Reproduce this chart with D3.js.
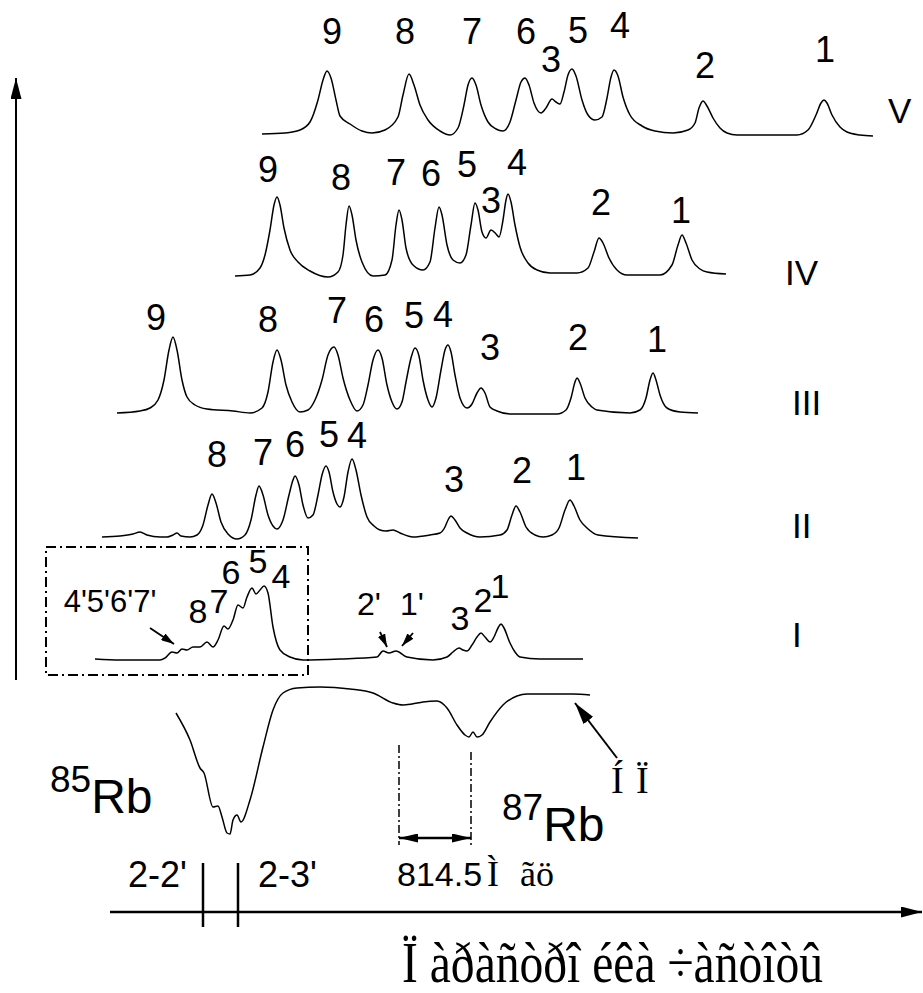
<!DOCTYPE html>
<html>
<head>
<meta charset="utf-8">
<script src="https://cdn.jsdelivr.net/npm/d3@7"></script>
<style>
  body { margin: 0; background: #fff; }
  svg { display: block; }
</style>
</head>
<body>
<div id="chart"></div>
<script>
const width = 923, height = 993;

// tuning axis and signal are both in arbitrary units; each trace sits on its own offset
const traceNames = ["V", "IV", "III", "II", "I"];
const traceOffsets = [56.6, 42.5, 28.7, 16.2, 4.0];

const traceV = [[26.2,0],[28.5,0.1],[30.0,0.4],[31.0,1.2],[31.8,3.4],[32.3,5.4],[32.7,6.3],[33.1,5.6],[33.6,3.4],[34.0,1.8],[35.0,1.0],[36.2,0.3],[37.2,0.1],[38.5,0.4],[39.8,1.7],[40.3,3.9],[40.9,6.0],[41.4,4.9],[42.0,2.9],[42.8,1.4],[44.0,0.3],[45.0,-0.1],[45.8,0.6],[46.4,2.9],[46.8,4.9],[47.2,5.6],[47.6,4.9],[48.1,2.9],[48.8,1.2],[49.6,0.5],[50.3,0.3],[51.0,1.2],[51.6,3.4],[52.1,5.2],[52.5,5.6],[52.9,4.9],[53.4,3.1],[54.1,2.1],[54.6,2.6],[55.2,3.5],[55.6,3.2],[56.0,3.0],[56.4,4.2],[56.8,5.9],[57.2,6.5],[57.6,5.8],[58.2,3.4],[58.8,1.9],[59.5,1.4],[60.2,1.7],[60.7,3.6],[61.1,5.7],[61.4,6.4],[61.8,5.8],[62.3,3.7],[63.0,1.9],[64.2,0.8],[65.5,0.3],[67.3,0.1],[68.8,0.4],[69.5,1.1],[69.9,2.6],[70.3,3.3],[70.7,2.8],[71.3,1.6],[72.0,0.6],[72.7,0.1],[73.7,-0.1],[79.7,-0.1],[80.8,0.4],[81.6,1.9],[82.1,3.1],[82.4,3.4],[82.7,3.1],[83.2,1.9],[84.0,0.7],[84.7,0.2],[86.0,-0.1],[87.3,-0.2]];

const traceIV = [[23.5,-0.1],[25.0,0],[26.0,0.7],[26.5,2.0],[27.0,4.5],[27.4,7.0],[27.7,7.8],[28.0,7.0],[28.4,4.7],[29.0,2.5],[29.8,1.3],[31.0,0.4],[32.8,-0.2],[33.8,0.3],[34.3,2.0],[34.6,5.0],[34.9,6.9],[35.2,6.0],[35.6,3.5],[36.2,1.3],[37.3,-0.1],[38.5,0],[39.2,1.5],[39.6,5.0],[39.9,6.5],[40.2,5.5],[40.6,2.7],[41.3,1.0],[42.3,0.5],[43.0,1.3],[43.5,4.7],[43.9,6.8],[44.2,6.0],[44.7,3.0],[45.3,1.5],[46.0,1.2],[46.6,2.0],[47.1,5.0],[47.5,7.2],[47.8,6.5],[48.2,4.3],[48.6,3.7],[49.1,4.5],[49.6,4.1],[49.9,3.8],[50.3,5.5],[50.6,7.5],[50.8,8.1],[51.1,7.3],[51.5,5.0],[52.0,2.8],[52.8,1.2],[53.7,0.5],[55.0,0.2],[57.7,0.2],[58.8,0.7],[59.4,2.3],[59.9,3.7],[60.3,3.2],[60.9,1.7],[61.7,0.5],[62.7,0],[66.0,0],[67.2,1.0],[67.8,3.0],[68.2,4.0],[68.6,3.2],[69.2,1.5],[70.0,0.6],[70.7,0.3],[72.6,0.1]];

const traceIII = [[11.7,0],[14.0,0.2],[15.0,0.5],[15.8,1.3],[16.4,3.3],[16.9,6.3],[17.3,7.6],[17.7,6.3],[18.2,3.3],[18.7,1.6],[19.5,0.8],[20.7,0.4],[23.3,0.2],[25.0,0],[26.2,0.5],[26.8,2.1],[27.3,5.1],[27.7,6.3],[28.1,5.3],[28.6,2.8],[29.2,1.1],[30.0,0.1],[30.8,0.3],[31.5,1.3],[32.2,3.3],[32.8,5.8],[33.4,6.6],[33.8,5.8],[34.3,3.5],[35.0,1.3],[35.7,0.2],[36.3,0.8],[36.8,2.8],[37.3,5.3],[37.8,6.3],[38.2,5.5],[38.7,2.8],[39.2,1.1],[39.7,0.4],[40.2,1.1],[40.6,3.1],[41.1,5.5],[41.5,6.5],[41.9,5.7],[42.3,3.3],[42.8,1.3],[43.2,0.6],[43.6,1.5],[44.1,4.3],[44.5,6.3],[44.8,6.8],[45.1,6.1],[45.5,3.8],[46.0,1.5],[46.7,0.5],[47.2,0.9],[47.7,2.0],[48.1,2.5],[48.5,2.0],[49.0,0.6],[49.7,0.2],[51.0,-0.1],[55.7,-0.1],[56.6,0.3],[57.1,1.5],[57.5,3.1],[57.7,3.5],[58.0,3.0],[58.5,1.5],[59.2,0.6],[59.7,0.3],[63.0,0],[64.0,0.3],[64.6,1.5],[65.0,3.3],[65.3,4.0],[65.6,3.3],[66.0,1.8],[66.7,0.5],[68.0,0.1],[69.8,0]];

const traceII = [[10.2,0.1],[12.0,0.2],[13.3,0.4],[14.0,0.6],[14.7,0.3],[16.0,0.1],[16.7,0.1],[17.3,0.3],[17.7,0.5],[18.1,0.2],[19.0,0.1],[19.7,0.3],[20.3,1.3],[20.8,3.3],[21.2,4.4],[21.6,3.5],[22.1,1.6],[22.8,0.4],[23.7,-0.1],[24.5,0.3],[25.1,1.8],[25.6,4.3],[25.9,5.2],[26.3,4.3],[26.8,2.3],[27.3,1.2],[27.7,0.9],[28.3,1.8],[28.9,4.3],[29.3,5.8],[29.5,6.2],[29.9,5.3],[30.3,3.3],[30.8,2.0],[31.3,2.3],[31.8,4.3],[32.2,6.3],[32.6,7.2],[32.9,6.6],[33.3,4.6],[33.7,3.4],[34.0,3.1],[34.4,4.1],[34.8,6.6],[35.2,7.9],[35.6,6.8],[36.1,4.3],[36.7,2.1],[37.4,1.2],[38.0,0.8],[38.6,0.7],[39.3,0.8],[40.0,0.5],[41.3,0.1],[43.0,0.3],[44.0,0.5],[44.5,1.1],[44.8,1.8],[45.1,2.2],[45.5,1.8],[46.0,1.0],[46.7,0.5],[48.0,0.1],[50.0,0.3],[50.7,0.8],[51.2,2.3],[51.6,3.2],[52.0,2.6],[52.6,1.1],[53.5,0.3],[54.3,0.1],[55.2,0.3],[55.9,1.0],[56.5,2.8],[57.0,3.8],[57.4,3.2],[58.0,1.8],[58.7,1.0],[59.8,0.3],[63.8,0]];

const traceI = [[9.5,0.1],[12.0,0],[16.0,0],[16.5,0.2],[17.2,0.8],[17.7,0.7],[18.2,1.1],[18.7,1.0],[19.3,1.3],[20.0,1.3],[20.7,1.8],[21.3,1.3],[21.8,2.0],[22.4,3.4],[22.8,3.1],[23.3,4.0],[23.8,5.5],[24.3,5.2],[24.7,6.3],[25.2,7.2],[25.6,6.6],[26.0,7.0],[26.4,7.4],[26.8,6.7],[27.3,3.3],[28.0,1.0],[29.0,0.3],[30.3,0],[34.0,0.1],[37.7,0.3],[38.3,0.9],[38.9,0.7],[39.6,0.9],[40.7,0.3],[43.3,0],[44.7,0.3],[45.3,0.8],[45.9,1.2],[46.3,1.0],[46.7,0.9],[47.2,1.5],[47.7,2.3],[48.1,2.7],[48.5,2.3],[49.0,1.8],[49.4,2.3],[49.8,3.2],[50.1,3.6],[50.4,3.2],[51.0,1.7],[51.5,0.8],[52.0,0.3],[54.0,0.1],[58.3,0.1]];

// saturated absorption reference trace (dips below its offset)
const absOffset = 0.6;
const traceAbs = [[17.6,-1.9],[19.0,-4.6],[20.0,-7.4],[20.4,-7.9],[21.3,-11.3],[21.8,-11.2],[22.2,-12.3],[22.7,-13.9],[23.0,-14.0],[23.3,-12.6],[23.7,-12.1],[24.1,-12.8],[25.0,-10.6],[26.3,-5.3],[27.3,-1.6],[28.3,0.1],[29.7,0.6],[32.0,0.7],[35.0,0.5],[37.3,0.1],[39.3,-0.9],[40.3,-1.1],[41.2,-1.0],[42.3,-0.8],[43.7,-0.7],[44.7,-1.4],[45.7,-3.1],[46.5,-4.1],[46.9,-4.3],[47.3,-3.8],[47.7,-4.3],[48.2,-4.1],[49.0,-2.8],[50.3,-1.1],[51.7,-0.2],[52.7,0],[57.3,0],[59.0,-0.1]];

const traces = [traceV, traceIV, traceIII, traceII, traceI];

// peak labels: [text, x, height above trace offset]
const labelsV = [["9",33.2,9.0],["8",40.5,9.0],["7",47.2,9.0],["6",52.6,9.0],["3",55.1,6.2],["5",57.8,9.1],["4",62.0,9.6],["2",70.5,5.6],["1",82.5,7.2]];
const labelsIV = [["9",26.8,9.3],["8",34.1,8.5],["7",39.6,9.0],["6",43.1,8.9],["5",46.7,9.8],["3",49.1,6.2],["4",51.7,10.0],["2",60.1,6.0],["1",68.1,5.2]];
const labelsIII = [["9",15.6,8.3],["8",26.8,8.1],["7",33.7,9.0],["6",37.4,8.1],["5",41.4,8.5],["4",44.3,8.6],["3",49.0,5.3],["2",57.8,6.3],["1",65.7,6.1]];
const labelsII = [["8",21.7,7.1],["7",26.3,7.3],["6",29.5,8.1],["5",32.9,9.1],["4",35.7,9.0],["3",45.4,4.6],["2",52.2,5.5],["1",57.6,5.8]];
const labelsI = [["4'5'6'7'",11.0,4.8],["8",19.8,3.7],["7",21.9,4.7],["6",23.1,7.6],["5",25.8,8.7],["4",28.1,7.2],["2'",36.9,4.5],["1'",41.2,4.5],["3",46.0,3.0],["2",48.3,4.8],["1",50.0,6.2]];
const traceLabels = [labelsV, labelsIV, labelsIII, labelsII, labelsI];

// trace names sit to the right: [x, height above trace offset]
const namePos = [[88.8,1.1],[78.5,-1.0],[79.2,-0.2],[79.2,0],[79.2,1.3]];

// arrows pointing at weak features: [x1, y1, x2, y2]
const smallArrows = [[15.0,7.2,17.4,5.6],[38.0,6.8,38.7,5.3],[41.3,6.7,40.2,5.4]];

// hyperfine markers on the tuning axis
const hfTicks = [20.3, 23.8];
const hfLabels = [["2-2'", 12.8], ["2-3'", 25.8]];
const splitting = [39.9, 47.1];   // 814.5 MHz between 85Rb and 87Rb

const xScale = d3.scaleLinear().domain([0, 92.3]).range([0, 923]);
const yScale = d3.scaleLinear().domain([-30, 70]).range([1000, 0]);

const sans = "'Liberation Sans', Arial, sans-serif";
const serif = "'Liberation Serif', 'Times New Roman', serif";

const svg = d3.select("#chart")
  .append("svg")
    .attr("width", width)
    .attr("height", height)
    .attr("viewBox", [0, 0, width, height]);

const defs = svg.append("defs");
const addMarker = (id, len, half) => {
  defs.append("marker")
      .attr("id", id)
      .attr("viewBox", `0 0 ${len} ${half * 2}`)
      .attr("refX", len)
      .attr("refY", half)
      .attr("markerWidth", len)
      .attr("markerHeight", half * 2)
      .attr("markerUnits", "userSpaceOnUse")
      .attr("orient", "auto-start-reverse")
    .append("path")
      .attr("d", `M0,0L${len},${half}L0,${half * 2}Z`)
      .attr("fill", "#000");
};
addMarker("axisHead", 21, 5.5);
addMarker("smallHead", 13, 4);
addMarker("midHead", 19, 4.5);
addMarker("bigHead", 22, 6);

const line = d3.line()
  .x(d => xScale(d[0]))
  .y(d => yScale(d[1]))
  .curve(d3.curveMonotoneX);

const labelSize = (t, i) => t.length > 3 ? 31 : (t.includes("'") ? 32 : (i === 4 ? 34 : 36));

// spectra
traces.forEach((tr, i) => {
  const off = traceOffsets[i];
  svg.append("path")
      .attr("d", line(tr.map(d => [d[0], d[1] + off])))
      .attr("fill", "none")
      .attr("stroke", "#000")
      .attr("stroke-width", 1.5);

  svg.append("g")
    .selectAll("text")
    .data(traceLabels[i])
    .join("text")
      .attr("x", d => xScale(d[1]))
      .attr("y", d => yScale(d[2] + off))
      .attr("text-anchor", "middle")
      .attr("font-family", sans)
      .attr("font-size", d => labelSize(d[0], i))
      .text(d => d[0]);

  svg.append("text")
      .attr("x", xScale(namePos[i][0]))
      .attr("y", yScale(namePos[i][1] + off))
      .attr("font-family", sans)
      .attr("font-size", 35)
      .text(traceNames[i]);
});

// absorption trace
svg.append("path")
    .attr("d", line(traceAbs.map(d => [d[0], d[1] + absOffset])))
    .attr("fill", "none")
    .attr("stroke", "#000")
    .attr("stroke-width", 1.5);

// dash-dot box around the 85Rb group of trace I
svg.append("rect")
    .attr("x", xScale(4.6))
    .attr("y", yScale(15.3))
    .attr("width", xScale(30.8) - xScale(4.6))
    .attr("height", yScale(2.5) - yScale(15.3))
    .attr("fill", "none")
    .attr("stroke", "#000")
    .attr("stroke-width", 2)
    .attr("stroke-dasharray", "10,4,2,4");

svg.append("g")
  .selectAll("line")
  .data(smallArrows)
  .join("line")
    .attr("x1", d => xScale(d[0]))
    .attr("y1", d => yScale(d[1]))
    .attr("x2", d => xScale(d[2]))
    .attr("y2", d => yScale(d[3]))
    .attr("stroke", "#000")
    .attr("stroke-width", 1.8)
    .attr("marker-end", "url(#smallHead)");

// axes
svg.append("line")
    .attr("x1", xScale(1.6)).attr("y1", yScale(2.0))
    .attr("x2", xScale(1.6)).attr("y2", yScale(62.2))
    .attr("stroke", "#000").attr("stroke-width", 2)
    .attr("marker-end", "url(#axisHead)");

svg.append("line")
    .attr("x1", xScale(11.0)).attr("y1", yScale(-21.2))
    .attr("x2", xScale(92.2)).attr("y2", yScale(-21.2))
    .attr("stroke", "#000").attr("stroke-width", 2.5)
    .attr("marker-end", "url(#axisHead)");

svg.append("g")
  .selectAll("line")
  .data(hfTicks)
  .join("line")
    .attr("x1", d => xScale(d)).attr("x2", d => xScale(d))
    .attr("y1", yScale(-16.3)).attr("y2", yScale(-22.7))
    .attr("stroke", "#000").attr("stroke-width", 2.5);

svg.append("g")
  .selectAll("text")
  .data(hfLabels)
  .join("text")
    .attr("x", d => xScale(d[1]))
    .attr("y", yScale(-18.7))
    .attr("font-family", sans)
    .attr("font-size", 36)
    .text(d => d[0]);

// 814.5 MHz splitting
svg.append("g")
  .selectAll("line")
  .data(splitting)
  .join("line")
    .attr("x1", d => xScale(d)).attr("x2", d => xScale(d))
    .attr("y1", (d, i) => yScale(i ? -5.2 : -4.5)).attr("y2", yScale(-14.5))
    .attr("stroke", "#000").attr("stroke-width", 1.5)
    .attr("stroke-dasharray", "8,3,2,3");

svg.append("line")
    .attr("x1", xScale(splitting[0])).attr("x2", xScale(splitting[1]))
    .attr("y1", yScale(-13.8)).attr("y2", yScale(-13.8))
    .attr("stroke", "#000").attr("stroke-width", 2.5)
    .attr("marker-start", "url(#midHead)")
    .attr("marker-end", "url(#midHead)");

const split = svg.append("text")
    .attr("x", xScale(39.7))
    .attr("y", yScale(-18.6))
    .attr("font-size", 34);
split.append("tspan").attr("font-family", sans).text("814.5");
split.append("tspan").attr("font-family", serif).attr("font-size", 36).attr("x", xScale(48.7)).text("Ì");
split.append("tspan").attr("font-family", serif).attr("font-size", 36).attr("x", xScale(52.0)).text("ãö");

// isotope labels
const isotope = (mass, x, y) => {
  const t = svg.append("text")
      .attr("x", xScale(x))
      .attr("y", yScale(y))
      .attr("font-family", sans);
  t.append("tspan").attr("font-size", 37).text(mass);
  t.append("tspan").attr("font-size", 48).attr("dy", 21).text("Rb");
};
isotope("85", 5.0, -9.2);
isotope("87", 50.2, -12.0);

// pointer to the reference (absorption) trace
svg.append("line")
    .attr("x1", xScale(61.7)).attr("y1", yScale(-5.8))
    .attr("x2", xScale(57.5)).attr("y2", yScale(-0.3))
    .attr("stroke", "#000").attr("stroke-width", 2)
    .attr("marker-end", "url(#bigHead)");

const np = svg.append("text")
    .attr("y", yScale(-9.3))
    .attr("font-family", serif)
    .attr("font-size", 38);
np.append("tspan").attr("x", xScale(61.1)).text("Í");
np.append("tspan").attr("x", xScale(63.6)).text("Ï");

// axis title
svg.append("text")
    .attr("x", xScale(40.2))
    .attr("y", yScale(-28.2))
    .attr("font-family", serif)
    .attr("font-size", 56)
    .attr("textLength", 421)
    .attr("lengthAdjust", "spacingAndGlyphs")
    .text("Ï àðàñòðî éêà ÷àñòîòû");
</script>
</body>
</html>
